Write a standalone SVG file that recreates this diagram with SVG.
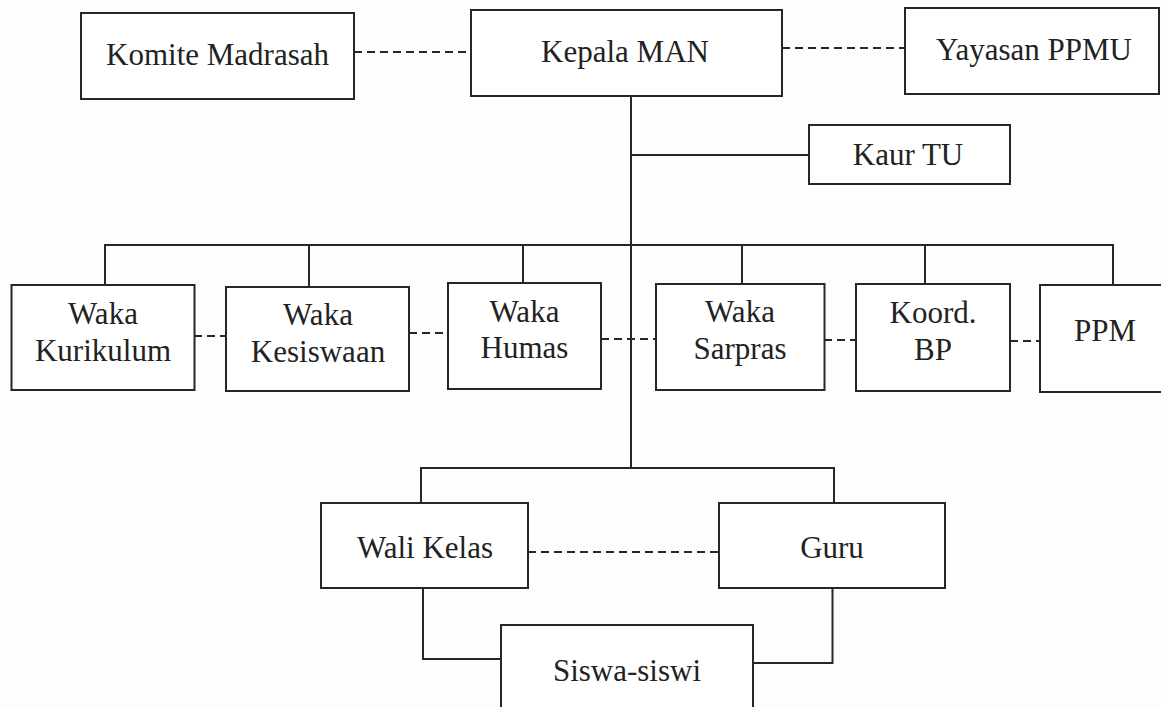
<svg xmlns="http://www.w3.org/2000/svg" width="1161" height="707" viewBox="0 0 1161 707">
<style>
.box{fill:#fff;stroke:#262626;stroke-width:2}
.ln{fill:none;stroke:#262626;stroke-width:2}
.dl{fill:none;stroke:#262626;stroke-width:2;stroke-dasharray:8 5}
text{font-family:"Liberation Serif","Times New Roman",serif;font-size:31px;fill:#222;text-anchor:middle}
</style>
<rect width="1161" height="707" fill="#fdfdfd"/>
<g id="connectors">
<path class="ln" d="M631 96V468M631 155H809M105 285V245H1113V285M309 245V287M523 245V283M742 245V284M925 245V284M421 503V468H834V503M423 588V659H501M832.5 588V663H753"/>
<path class="dl" d="M354 52H471M782 48H905M194 336H226M409 333H448M601 339H656M824 340H856M1010 341H1040M528 552H719"/>
</g>
<g id="komite"><rect class="box" x="81" y="13" width="273" height="86"/><text x="217.5" y="65">Komite Madrasah</text></g>
<g id="kepala"><rect class="box" x="471" y="10" width="311" height="86"/><text x="625" y="62">Kepala MAN</text></g>
<g id="yayasan"><rect class="box" x="905" y="8" width="254" height="86"/><text x="1034" y="60">Yayasan PPMU</text></g>
<g id="kaur"><rect class="box" x="809" y="125" width="201" height="59"/><text x="908" y="165">Kaur TU</text></g>
<g id="kurikulum"><rect class="box" x="11.5" y="285" width="183" height="105"/><text x="103" y="324">Waka</text><text x="103" y="361">Kurikulum</text></g>
<g id="kesiswaan"><rect class="box" x="226" y="287" width="183" height="104"/><text x="318" y="325">Waka</text><text x="318" y="362">Kesiswaan</text></g>
<g id="humas"><rect class="box" x="448" y="283" width="153" height="106"/><text x="524.5" y="322">Waka</text><text x="524.5" y="358">Humas</text></g>
<g id="sarpras"><rect class="box" x="656" y="284" width="168.5" height="106"/><text x="740" y="322">Waka</text><text x="740" y="359">Sarpras</text></g>
<g id="koord"><rect class="box" x="856" y="284" width="154" height="107"/><text x="933" y="323">Koord.</text><text x="933" y="360">BP</text></g>
<g id="ppm"><rect class="box" x="1040" y="285" width="140" height="107"/><text x="1105" y="341">PPM</text></g>
<g id="wali"><rect class="box" x="321" y="503" width="207" height="85"/><text x="425" y="558">Wali Kelas</text></g>
<g id="guru"><rect class="box" x="719" y="503" width="226" height="85"/><text x="832" y="558">Guru</text></g>
<g id="siswa"><rect class="box" x="501" y="625" width="252" height="100"/><text x="627" y="681">Siswa-siswi</text></g>
</svg>
